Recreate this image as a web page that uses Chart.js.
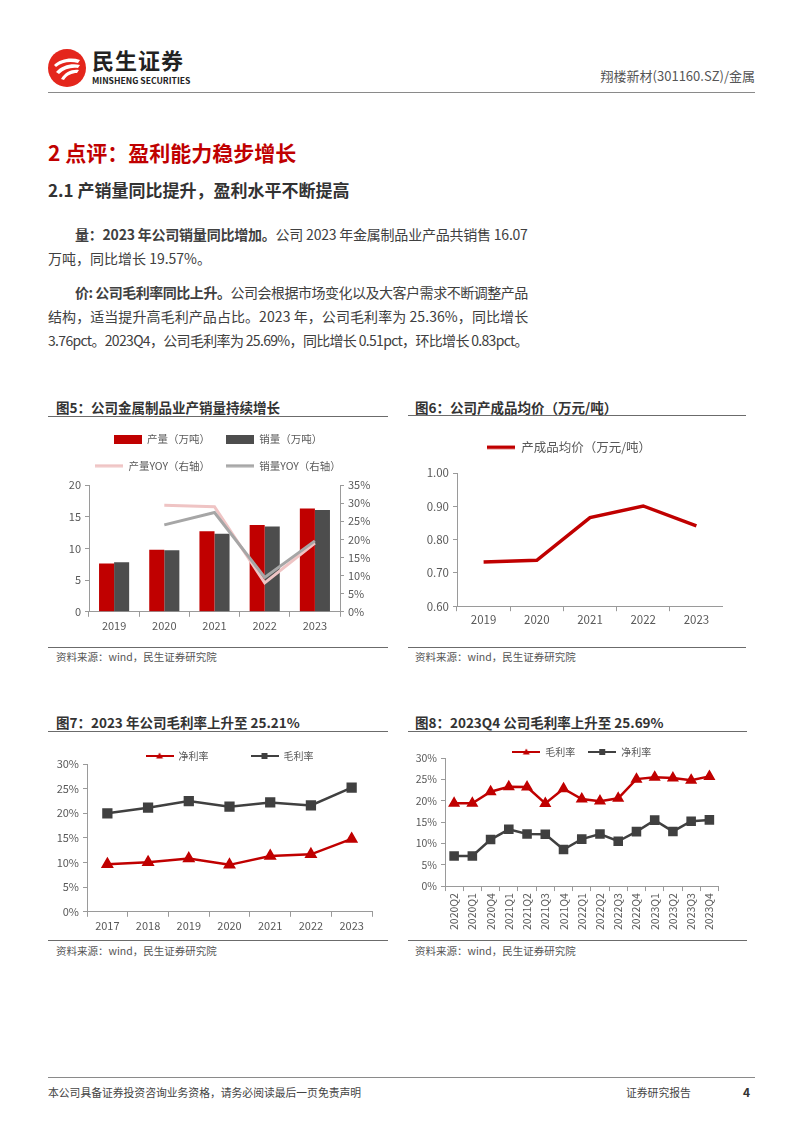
<!DOCTYPE html>
<html>
<head>
<meta charset="utf-8">
<script src="https://cdn.jsdelivr.net/npm/chart.js@4.4.0/dist/chart.umd.min.js"></script>
<style>
  body { margin: 0; width: 802px; height: 1133px; position: relative; background: #fff; overflow: hidden;
         font-family: "Noto Sans CJK SC", "Noto Sans", sans-serif; color: #3c3c3c; }
  .a { position: absolute; white-space: nowrap; }
  .hr { position: absolute; height: 0; border-top: 1.5px solid #6b6b6b; }
  .ttl { font-size: 13.5px; font-weight: bold; color: #333; line-height: 18px; }
  .src { font-size: 10.5px; color: #555; line-height: 14px; }
  .ln { font-size: 14px; line-height: 20px; color: #404040; }
  .box { position: absolute; }
</style>
</head>
<body>

<!-- header -->
<svg class="a" style="left:47px;top:48px" width="40" height="40" viewBox="0 0 40 40">
  <circle cx="20" cy="20" r="19" fill="#e4261c"/>
  <path d="M7 17 C13 11 24 9 33 12 L31 15 C23 13 15 14 9 19 Z" fill="#fff"/>
  <path d="M9 24 C15 17 25 15 33 17 L31 20 C24 19 17 21 12 26 Z" fill="#fff"/>
  <path d="M14 31 C18 24 25 21 32 22 L30 25 C25 25 20 27 17 32 Z" fill="#fff"/>
</svg>
<div class="a" style="left:92px;top:45px;font-size:22px;font-weight:bold;color:#222;line-height:28px;letter-spacing:1px">民生证券</div>
<div class="a" style="left:92px;top:74px;font-size:8.6px;font-weight:bold;color:#222;line-height:12px">MINSHENG SECURITIES</div>
<div class="a" style="right:47px;top:67px;font-size:13px;color:#555;line-height:18px">翔楼新材(301160.SZ)/金属</div>
<div class="hr" style="left:48px;width:707px;top:92px;border-top-color:#8a8a8a"></div>

<!-- headings -->
<div class="a" style="left:48px;top:139px;font-size:21px;font-weight:bold;color:#c00000;line-height:26px">2 点评：盈利能力稳步增长</div>
<div class="a" style="left:48px;top:179px;font-size:17px;font-weight:bold;color:#333;line-height:22px">2.1 产销量同比提升，盈利水平不断提高</div>

<!-- paragraphs -->
<div class="a ln fit" data-w="453" style="left:75px;top:224px"><b>量：2023 年公司销量同比增加。</b>公司 2023 年金属制品业产品共销售 16.07</div>
<div class="a ln" style="left:48px;top:248px">万吨，同比增长 19.57%。</div>
<div class="a ln fit" data-w="453" style="left:75px;top:282px"><b>价: 公司毛利率同比上升。</b>公司会根据市场变化以及大客户需求不断调整产品</div>
<div class="a ln fit" data-w="480" style="left:48px;top:306px">结构，适当提升高毛利产品占比。2023 年，公司毛利率为 25.36%，同比增长</div>
<div class="a ln fit" data-w="480" style="left:48px;top:330px">3.76pct。2023Q4，公司毛利率为 25.69%，同比增长 0.51pct，环比增长 0.83pct。</div>

<!-- chart frames -->
<div class="a ttl" style="left:56px;top:398px">图5：公司金属制品业产销量持续增长</div>
<div class="hr" style="left:48px;width:340px;top:416px"></div>
<div class="hr" style="left:48px;width:340px;top:647px"></div>
<div class="a src" style="left:56px;top:650px">资料来源：wind，民生证券研究院</div>

<div class="a ttl" style="left:415px;top:398px">图6：公司产成品均价（万元/吨）</div>
<div class="hr" style="left:408px;width:338px;top:415px"></div>
<div class="hr" style="left:408px;width:338px;top:647px"></div>
<div class="a src" style="left:415px;top:650px">资料来源：wind，民生证券研究院</div>

<div class="a ttl" style="left:56px;top:713px">图7：2023 年公司毛利率上升至 25.21%</div>
<div class="hr" style="left:48px;width:340px;top:731px"></div>
<div class="hr" style="left:48px;width:340px;top:940px"></div>
<div class="a src" style="left:56px;top:944px">资料来源：wind，民生证券研究院</div>

<div class="a ttl" style="left:415px;top:713px">图8：2023Q4 公司毛利率上升至 25.69%</div>
<div class="hr" style="left:408px;width:339px;top:731px"></div>
<div class="hr" style="left:408px;width:339px;top:940px"></div>
<div class="a src" style="left:415px;top:944px">资料来源：wind，民生证券研究院</div>

<div class="box" style="left:48px;top:418px;width:340px;height:216px"><canvas id="c5"></canvas></div>
<div class="box" style="left:415px;top:431px;width:308px;height:198px"><canvas id="c6"></canvas></div>
<div class="box" style="left:48px;top:709px;width:332px;height:225px"><canvas id="c7"></canvas></div>
<div class="box" style="left:415px;top:734px;width:311px;height:198px"><canvas id="c8"></canvas></div>

<!-- footer -->
<div class="hr" style="left:48px;width:707px;top:1077px;border-top-color:#8a8a8a"></div>
<div class="a" style="left:48px;top:1085px;font-size:10.8px;color:#444;line-height:15px">本公司具备证券投资咨询业务资格，请务必阅读最后一页免责声明</div>
<div class="a" style="left:626px;top:1085px;font-size:10.8px;color:#444;line-height:15px">证券研究报告</div>
<div class="a" style="left:743px;top:1084px;font-size:12px;font-weight:bold;color:#333;line-height:15px">4</div>

<script>
// 图5 产销量
const years5 = ['2019', '2020', '2021', '2022', '2023'];
const output5 = [7.6, 9.8, 12.7, 13.7, 16.3];
const sales5 = [7.8, 9.7, 12.3, 13.45, 16.07];
const outputYoy5 = [null, 29.4, 29.0, 8.0, 19.0];
const salesYoy5 = [null, 24.0, 27.4, 9.5, 19.57];

// 图6 产成品均价
const years6 = ['2019', '2020', '2021', '2022', '2023'];
const price6 = [0.733, 0.738, 0.866, 0.901, 0.841];

// 图7 年度毛利率/净利率
const years7 = ['2017', '2018', '2019', '2020', '2021', '2022', '2023'];
const netMargin7 = [9.66, 10.06, 10.8, 9.53, 11.33, 11.67, 14.8];
const grossMargin7 = [20.0, 21.13, 22.47, 21.33, 22.2, 21.6, 25.21];

// 图8 季度毛利率/净利率
const quarters8 = ['2020Q2', '2020Q1', '2020Q4', '2021Q1', '2021Q2', '2021Q3', '2021Q4', '2022Q1',
  '2022Q2', '2022Q3', '2022Q4', '2023Q1', '2023Q2', '2023Q3', '2023Q4'];
const grossMargin8 = [19.4, 19.4, 22.1, 23.25, 23.2, 19.35, 22.8, 20.4, 19.9, 20.55, 25.05, 25.5, 25.3, 24.8, 25.69];
const netMargin8 = [7.05, 7.05, 10.9, 13.3, 12.2, 12.15, 8.55, 11.0, 12.2, 10.5, 12.75, 15.45, 12.8, 15.2, 15.5];

const RED = '#c00000';
const DARK = '#4d4d4d';
const AXIS = '#9a9a9a';

// stretch/squeeze text lines to their width in the page
document.querySelectorAll('.fit').forEach(el => {
  const w = +el.dataset.w;
  const n = el.textContent.length;
  el.style.letterSpacing = ((w - el.scrollWidth) / n) + 'px';
});

Chart.defaults.font.family = '"Noto Sans CJK SC", "Noto Sans", sans-serif';
Chart.defaults.color = '#595959';
Chart.defaults.animation = false;
Chart.defaults.maintainAspectRatio = false;
Chart.defaults.plugins.tooltip.enabled = false;

// legend height override, legend is drawn at top + padding anyway
const legendFix = {
  id: 'legendFix',
  afterInit(chart, args, opts) {
    const lg = chart.legend;
    if (!lg) return;
    const fit = lg.fit.bind(lg);
    lg.fit = function () { fit(); if (opts.height != null) this.height = opts.height; };
  }
};

function mark(color, shape, w, h, lw) {
  const c = document.createElement('canvas');
  c.width = w; c.height = h;
  const g = c.getContext('2d');
  g.fillStyle = color; g.strokeStyle = color;
  if (shape === 'bar') { g.fillRect(0, 0, w, h); return c; }
  g.lineWidth = lw;
  g.beginPath(); g.moveTo(0, h / 2); g.lineTo(w, h / 2); g.stroke();
  if (shape === 'triangle') {
    g.beginPath();
    g.moveTo(w / 2, h / 2 - 3.5); g.lineTo(w / 2 + 3.5, h / 2 + 2.5); g.lineTo(w / 2 - 3.5, h / 2 + 2.5);
    g.closePath(); g.fill();
  }
  if (shape === 'rect') g.fillRect(w / 2 - 3, h / 2 - 3, 6, 6);
  return c;
}

function legendOpts(size, padding, marks, fullSize) {
  return {
    position: 'top',
    fullSize: fullSize,
    labels: {
      font: { size: size },
      padding: padding,
      color: '#595959',
      usePointStyle: true,
      pointStyleWidth: 28,
      sort: (a, b) => a.datasetIndex - b.datasetIndex,
      generateLabels(chart) {
        const items = Chart.defaults.plugins.legend.labels.generateLabels(chart);
        items.forEach(it => { it.pointStyle = marks[it.datasetIndex]; });
        return items;
      }
    }
  };
}

function xAxis(size, extra) {
  return Object.assign({
    offset: true,
    grid: { drawOnChartArea: false, offset: true, tickLength: 5, color: AXIS },
    border: { color: AXIS },
    ticks: { font: { size: size }, padding: 2, autoSkip: false, maxRotation: 0 }
  }, extra || {});
}

function yAxis(size, min, max, step, width, fmt, pos) {
  return {
    position: pos || 'left',
    min: min, max: max,
    grid: { drawOnChartArea: false, tickLength: 4, color: AXIS },
    border: { color: AXIS },
    ticks: { stepSize: step, font: { size: size }, padding: 4, callback: fmt },
    afterFit: s => { s.width = width; }
  };
}

const pct = v => v + '%';

// 图5
new Chart(document.getElementById('c5'), {
  data: {
    labels: years5,
    datasets: [
      { type: 'bar', label: '产量（万吨）', data: output5, backgroundColor: RED, yAxisID: 'y', order: 2,
        categoryPercentage: 0.6, barPercentage: 1 },
      { type: 'bar', label: '销量（万吨）', data: sales5, backgroundColor: DARK, yAxisID: 'y', order: 2,
        categoryPercentage: 0.6, barPercentage: 1 },
      { type: 'line', label: '产量YOY（右轴）', data: outputYoy5, borderColor: '#efc4c4', borderWidth: 3,
        pointRadius: 0, yAxisID: 'y1', order: 1 },
      { type: 'line', label: '销量YOY（右轴）', data: salesYoy5, borderColor: '#a6a6a6', borderWidth: 3,
        pointRadius: 0, yAxisID: 'y1', order: 0 }
    ]
  },
  options: {
    plugins: {
      legend: legendOpts(10.5, 16, [mark(RED, 'bar', 28, 9), mark(DARK, 'bar', 28, 9),
        mark('#efc4c4', 'line', 28, 4, 3), mark('#a6a6a6', 'line', 28, 4, 3)], true),
      legendFix: { height: 67 }
    },
    scales: {
      x: xAxis(11),
      y: yAxis(11, 0, 20, 5, 41),
      y1: yAxis(11, 0, 35, 5, 48, pct, 'right')
    }
  },
  plugins: [legendFix]
});

// 图6
new Chart(document.getElementById('c6'), {
  type: 'line',
  data: {
    labels: years6,
    datasets: [
      { label: '产成品均价（万元/吨）', data: price6, borderColor: RED, borderWidth: 3.5, pointRadius: 0 }
    ]
  },
  options: {
    plugins: {
      legend: legendOpts(12.5, 10, [mark(RED, 'line', 28, 5, 3.5)], true),
      legendFix: { height: 42 }
    },
    scales: {
      x: xAxis(11.5),
      y: yAxis(11.5, 0.6, 1.0, 0.1, 42, v => v.toFixed(2))
    }
  },
  plugins: [legendFix]
});

// 图7
new Chart(document.getElementById('c7'), {
  type: 'line',
  data: {
    labels: years7,
    datasets: [
      { label: '净利率', data: netMargin7, borderColor: RED, backgroundColor: RED, borderWidth: 2.5,
        pointStyle: 'triangle', pointRadius: 5 },
      { label: '毛利率', data: grossMargin7, borderColor: '#404040', backgroundColor: '#404040', borderWidth: 2.5,
        pointStyle: 'rect', pointRadius: 5.5 }
    ]
  },
  options: {
    plugins: {
      legend: legendOpts(10, 42, [mark(RED, 'triangle', 28, 8, 2), mark('#404040', 'rect', 28, 8, 2)], false),
      legendFix: { height: 55 }
    },
    scales: {
      x: xAxis(11),
      y: yAxis(11, 0, 30, 5, 39, pct)
    }
  },
  plugins: [legendFix]
});

// 图8
new Chart(document.getElementById('c8'), {
  type: 'line',
  data: {
    labels: quarters8,
    datasets: [
      { label: '毛利率', data: grossMargin8, borderColor: RED, backgroundColor: RED, borderWidth: 2.5,
        pointStyle: 'triangle', pointRadius: 4.5 },
      { label: '净利率', data: netMargin8, borderColor: '#404040', backgroundColor: '#404040', borderWidth: 2.5,
        pointStyle: 'rect', pointRadius: 5 }
    ]
  },
  options: {
    plugins: {
      legend: legendOpts(10, 13, [mark(RED, 'triangle', 28, 8, 2), mark('#404040', 'rect', 28, 8, 2)], false),
      legendFix: { height: 24 }
    },
    scales: {
      x: xAxis(10.5, { ticks: { font: { size: 10.5 }, padding: 2, autoSkip: false, minRotation: 90, maxRotation: 90 } }),
      y: yAxis(10.5, 0, 30, 5, 30, pct)
    }
  },
  plugins: [legendFix]
});
</script>
</body>
</html>
